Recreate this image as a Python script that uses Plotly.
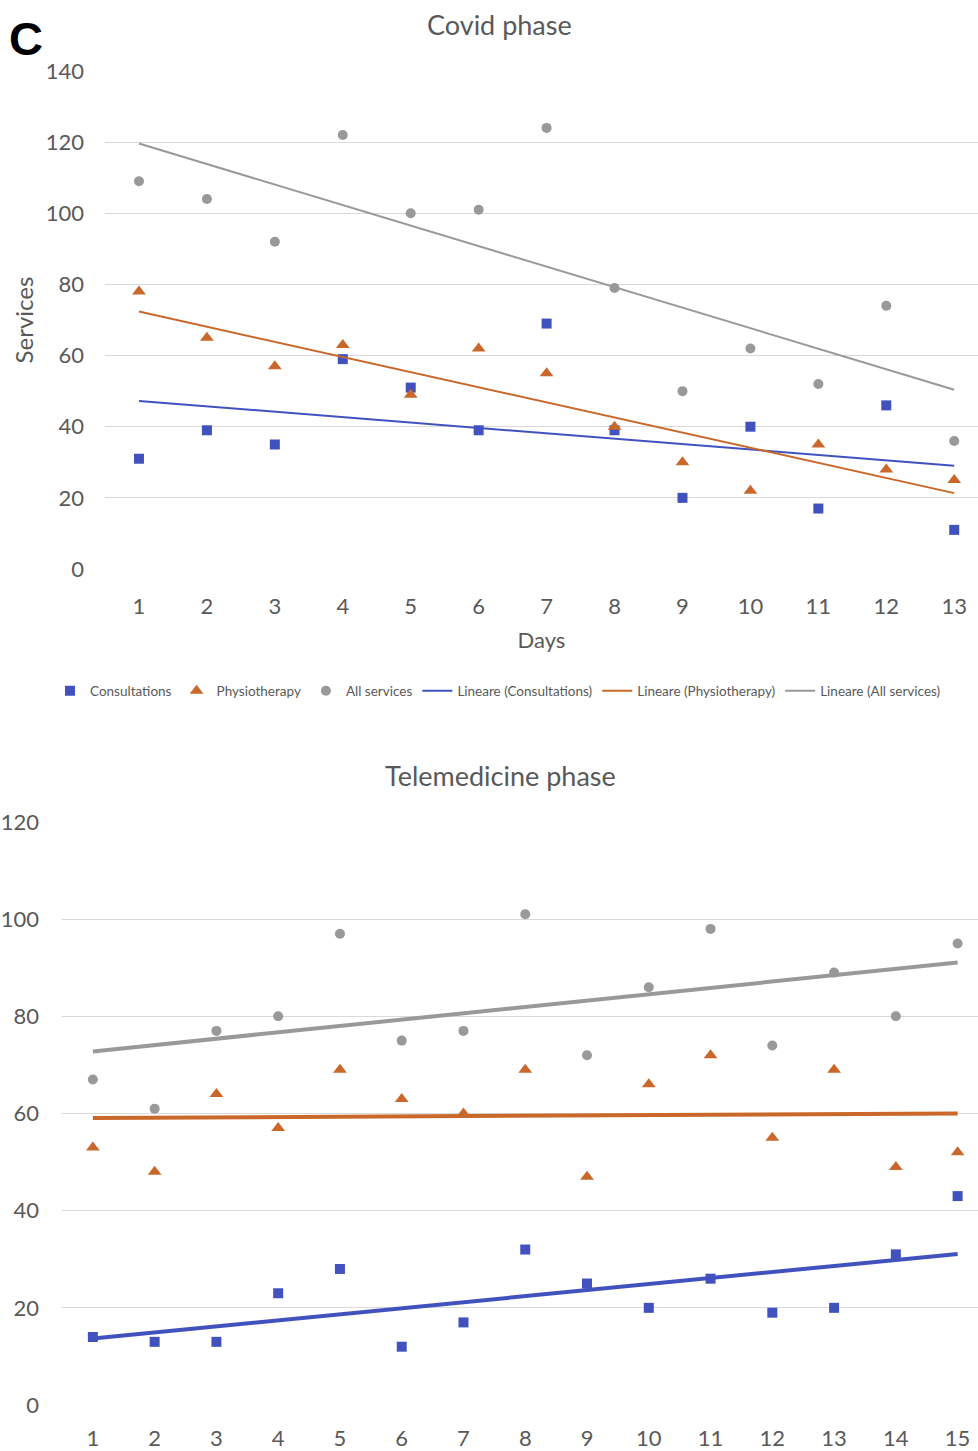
import numpy as np
import plotly.graph_objects as go

# ---------------- data ----------------
covid_days = list(range(1, 14))
covid_consultations = [31, 39, 35, 59, 51, 39, 69, 39, 20, 40, 17, 46, 11]
covid_physiotherapy = [78, 65, 57, 63, 49, 62, 55, 40, 30, 22, 35, 28, 25]
covid_all = [109, 104, 92, 122, 100, 101, 124, 79, 50, 62, 52, 74, 36]

tele_days = list(range(1, 16))
tele_consultations = [14, 13, 13, 23, 28, 12, 17, 32, 25, 20, 26, 19, 20, 31, 43]
tele_physiotherapy = [53, 48, 64, 57, 69, 63, 60, 69, 47, 66, 72, 55, 69, 49, 52]
tele_all = [67, 61, 77, 80, 97, 75, 77, 101, 72, 86, 98, 74, 89, 80, 95]

series_names = ["Consultations", "Physiotherapy", "All services"]
colors = ["#4152BF", "#C9682A", "#999999"]
symbols = ["square", "triangle-up", "circle"]
msizes = [10, 12, 10]

W, H = 978, 1451
FONT = "Lato, 'Open Sans', sans-serif"
TXT = "#595959"


def trend(x, y):
    m, b = np.polyfit(np.array(x, float), np.array(y, float), 1)
    xs = np.array([x[0], x[-1]], float)
    return xs, m * xs + b


fig = go.Figure()

# top chart
for name, vals, col, sym, ms in zip(series_names,
                                     [covid_consultations, covid_physiotherapy, covid_all],
                                     colors, symbols, msizes):
    fig.add_trace(go.Scatter(x=covid_days, y=vals, mode="markers", name=name,
                             marker=dict(symbol=sym, color=col, size=ms),
                             xaxis="x", yaxis="y"))
for name, vals, col in zip(series_names,
                           [covid_consultations, covid_physiotherapy, covid_all], colors):
    xs, ys = trend(covid_days, vals)
    fig.add_trace(go.Scatter(x=xs, y=ys, mode="lines", name=f"Lineare ({name})",
                             line=dict(color=col, width=2), xaxis="x", yaxis="y"))

# bottom chart
for name, vals, col in zip(series_names,
                           [tele_consultations, tele_physiotherapy, tele_all], colors):
    xs, ys = trend(tele_days, vals)
    fig.add_trace(go.Scatter(x=xs, y=ys, mode="lines", showlegend=False,
                             line=dict(color=col, width=4), xaxis="x2", yaxis="y2"))
for name, vals, col, sym, ms in zip(series_names,
                                     [tele_consultations, tele_physiotherapy, tele_all],
                                     colors, symbols, msizes):
    fig.add_trace(go.Scatter(x=tele_days, y=vals, mode="markers", showlegend=False,
                             marker=dict(symbol=sym, color=col, size=ms),
                             xaxis="x2", yaxis="y2"))


def px_x(p):
    return p / W


def px_y(p):
    return 1 - p / H


grid = "#D9D9D9"
axis_common = dict(showline=False, zeroline=False, gridcolor=grid, gridwidth=1.3,
                   automargin=False,
                   tickfont=dict(size=22, color=TXT, family=FONT), ticks="")

fig.update_layout(
    width=W, height=H, autosize=False,
    margin=dict(l=0, r=0, t=0, b=0, pad=0, autoexpand=False),
    paper_bgcolor="white", plot_bgcolor="white",
    font=dict(family=FONT, color=TXT),
    xaxis=dict(domain=[px_x(105), 1], range=[0.5, 13.35], tickvals=covid_days,
               showgrid=False, anchor="y", ticklabelstandoff=22,
               title=dict(text="Days", font=dict(size=22, color=TXT), standoff=14),
               **axis_common),
    yaxis=dict(domain=[px_y(569), px_y(71)], range=[0, 140], dtick=20, anchor="x",
               ticklabelstandoff=20,
               title=dict(text="Services", font=dict(size=24, color=TXT), standoff=5),
               **axis_common),
    xaxis2=dict(domain=[px_x(62), 1], range=[0.5, 15.33], tickvals=tele_days,
                showgrid=False, anchor="y2", ticklabelstandoff=18, **axis_common),
    yaxis2=dict(domain=[px_y(1405), px_y(822)], range=[0, 120], dtick=20, anchor="x2",
                ticklabelstandoff=22, **axis_common),
    legend=dict(orientation="h", x=px_x(50), y=px_y(691), yanchor="middle", xanchor="left",
                font=dict(size=13.5, color=TXT, family=FONT), itemwidth=30,
                tracegroupgap=0, bgcolor="rgba(0,0,0,0)"),
    annotations=[
        dict(text="Covid phase", x=px_x(499), y=px_y(24), xref="paper", yref="paper",
             showarrow=False, font=dict(size=27, color=TXT, family=FONT),
             xanchor="center", yanchor="middle"),
        dict(text="Telemedicine phase", x=px_x(500), y=px_y(775), xref="paper", yref="paper",
             showarrow=False, font=dict(size=27, color=TXT, family=FONT),
             xanchor="center", yanchor="middle"),
        dict(text="<b>C</b>", x=px_x(7), y=px_y(38), xref="paper", yref="paper",
             showarrow=False, font=dict(size=47, color="black", family="Liberation Sans, Arial"),
             xanchor="left", yanchor="middle"),
    ],
)

fig.write_html(
    "out.html",
    config={"displayModeBar": False},
    post_script=(
        "var gd=document.getElementById('{plot_id}');"
        "gd.style.position='fixed';gd.style.top='0px';gd.style.left='0px';"
        "document.documentElement.style.margin='0';"
        "document.documentElement.style.overflow='hidden';"
        "document.body.style.margin='0';document.body.style.padding='0';"
        "document.body.style.overflow='hidden';"
    ),
)
